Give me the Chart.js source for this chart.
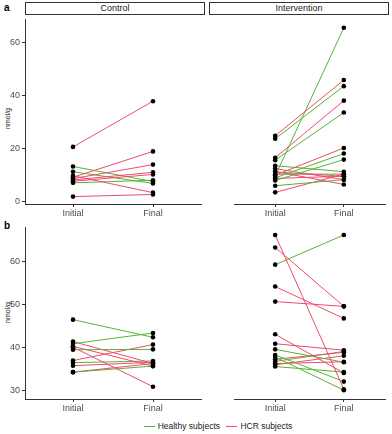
<!DOCTYPE html>
<html>
<head>
<meta charset="utf-8">
<script src="https://cdn.jsdelivr.net/npm/chart.js@4"></script>
<style>
  body { margin: 0; background: #fff; font-family: "Liberation Sans", Arial, sans-serif; }
  #wrap { position: relative; width: 392px; height: 434px; }
  canvas { position: absolute; }
  .strip { position: absolute; top: 2px; height: 11px; border: 1px solid #333; background: #fff;
           font-size: 9px; color: #1a1a1a; text-align: center; line-height: 11px; }
  .tag { position: absolute; font-weight: bold; font-size: 10px; color: #000; }
  .ytitle { position: absolute; font-size: 7px; color: #1a1a1a; transform: rotate(-90deg); transform-origin: center; white-space: nowrap; }
  #legend { position: absolute; top: 421px; left: 44px; width: 348px; text-align: center; font-size: 8.5px; color: #1a1a1a; }
  #legend span.sw { display: inline-block; width: 11px; height: 1px; vertical-align: middle; margin: 0 3px 0 0; }
  #legend span.item { margin: 0 2px; }
</style>
</head>
<body>
<div id="wrap">
  <div class="tag" style="left:4px;top:2px;">a</div>
  <div class="tag" style="left:4px;top:220px;">b</div>
  <div class="strip" style="left:25px;width:178px;">Control</div>
  <div class="strip" style="left:209px;width:178px;">Intervention</div>
  <div class="ytitle" style="left:-8px;top:115px;width:30px;text-align:center;">nmol/g</div>
  <div class="ytitle" style="left:-8px;top:309px;width:30px;text-align:center;">nmol/g</div>
  <canvas id="aControl" width="205" height="204" style="left:0;top:15px;"></canvas>
  <canvas id="aInterv" width="180" height="204" style="left:209px;top:15px;"></canvas>
  <canvas id="bControl" width="205" height="191" style="left:0;top:223px;"></canvas>
  <canvas id="bInterv" width="180" height="191" style="left:209px;top:223px;"></canvas>
  <div id="legend">
    <span class="item"><span class="sw" style="background:#55b335"></span>Healthy subjects</span>
    <span class="item"><span class="sw" style="background:#ef4a6c"></span>HCR subjects</span>
  </div>
</div>
<script>
// categorías y etiquetas
const timeLabels = ['Initial', 'Final'];
const ticksA = [0, 20, 40, 60];
const ticksB = [30, 40, 50, 60];

// Panel a - Control
const aControlInitial = [20.5, 9.0, 8.5, 8.0, 7.5, 9.6, 1.7, 13.1, 11.1, 6.9];
const aControlFinal   = [37.8, 18.8, 13.8, 10.9, 10.1, 3.2, 2.5, 7.4, 6.7, 7.9];
const aControlGroup   = ['HCR', 'HCR', 'HCR', 'HCR', 'HCR', 'HCR', 'HCR', 'Healthy', 'Healthy', 'Healthy'];

// Panel a - Intervention
const aIntervInitial = [24.7, 23.6, 16.4, 15.5, 9.5, 9.8, 8.8, 7.8, 13.4, 12.3, 11.2, 10.2, 8.6, 5.8, 3.3, 11.0];
const aIntervFinal   = [45.8, 43.5, 38.0, 33.5, 65.6, 20.1, 18.0, 15.7, 11.1, 8.1, 6.3, 10.2, 9.4, 8.1, 10.2, 9.4];
const aIntervGroup   = ['HCR', 'Healthy', 'HCR', 'Healthy', 'Healthy', 'HCR', 'Healthy', 'Healthy', 'Healthy', 'HCR', 'HCR', 'HCR', 'HCR', 'Healthy', 'HCR', 'Healthy'];

// Panel b - Control
const bControlInitial = [46.4, 40.8, 39.4, 41.3, 40.2, 40.0, 36.9, 36.4, 35.7, 34.2, 34.2];
const bControlFinal   = [42.3, 43.3, 39.5, 36.2, 35.6, 30.8, 40.6, 36.8, 36.5, 35.6, 36.2];
const bControlGroup   = ['Healthy', 'Healthy', 'Healthy', 'HCR', 'HCR', 'HCR', 'HCR', 'Healthy', 'HCR', 'Healthy', 'HCR'];

// Panel b - Intervention
const bIntervInitial = [66.1, 63.2, 59.2, 54.1, 50.6, 43.0, 40.8, 39.5, 38.2, 37.7, 37.2, 36.7, 36.2, 35.5, 35.9];
const bIntervFinal   = [30.2, 49.5, 66.1, 46.7, 49.5, 34.0, 39.3, 36.5, 32.0, 30.0, 38.8, 39.0, 36.6, 34.2, 38.0];
const bIntervGroup   = ['HCR', 'HCR', 'Healthy', 'HCR', 'HCR', 'HCR', 'HCR', 'Healthy', 'Healthy', 'Healthy', 'HCR', 'Healthy', 'HCR', 'Healthy', 'HCR'];

const colors = { Healthy: '#55b335', HCR: '#ef4a6c' };
const axisColor = '#333333';
const tickFont = { family: 'Liberation Sans', size: 9 };

function makePanel(id, initial, final, group, yMin, yMax, yTicks, showY, xHeight) {
    const datasets = initial.map((v, i) => ({
        data: [{ x: 1, y: v }, { x: 2, y: final[i] }],
        showLine: true,
        borderColor: colors[group[i]],
        borderWidth: 1,
        pointRadius: 0,
        order: 1
    }));
    // puntos encima de las líneas
    const pts = [];
    initial.forEach((v, i) => {
        pts.push({ x: 1, y: v });
        pts.push({ x: 2, y: final[i] });
    });
    datasets.push({
        data: pts,
        showLine: false,
        pointRadius: 2.3,
        pointBackgroundColor: '#000',
        pointBorderWidth: 0,
        order: 0
    });

    new Chart(document.getElementById(id).getContext('2d'), {
        type: 'scatter',
        data: { datasets },
        options: {
            responsive: false,
            animation: false,
            devicePixelRatio: 1,
            layout: { padding: 0 },
            plugins: { legend: { display: false }, tooltip: { enabled: false } },
            scales: {
                x: {
                    type: 'linear',
                    min: 0.4,
                    max: 2.6,
                    afterBuildTicks: axis => { axis.ticks = [{ value: 1 }, { value: 2 }]; },
                    afterFit: scale => {
                        scale.height = xHeight;
                        scale.paddingLeft = 0;
                        scale.paddingRight = 0;
                    },
                    ticks: {
                        callback: (v) => timeLabels[v - 1],
                        font: tickFont,
                        color: '#4d4d4d',
                        padding: 1,
                        maxRotation: 0
                    },
                    grid: { drawOnChartArea: false, drawTicks: true, tickLength: 3, color: axisColor },
                    border: { display: true, color: axisColor, width: 1 }
                },
                y: {
                    display: showY,
                    min: yMin,
                    max: yMax,
                    afterBuildTicks: axis => { axis.ticks = yTicks.map(v => ({ value: v })); },
                    afterFit: scale => {
                        scale.width = 25;
                        scale.paddingTop = 0;
                        scale.paddingBottom = 0;
                    },
                    ticks: { font: tickFont, color: '#4d4d4d', padding: 2 },
                    grid: { drawOnChartArea: false, drawTicks: true, tickLength: 3, color: axisColor },
                    border: { display: true, color: axisColor, width: 1 }
                }
            }
        }
    });
}

makePanel('aControl', aControlInitial, aControlFinal, aControlGroup, -1.1, 68.9, ticksA, true, 15);
makePanel('aInterv', aIntervInitial, aIntervFinal, aIntervGroup, -1.1, 68.9, ticksA, false, 15);
makePanel('bControl', bControlInitial, bControlFinal, bControlGroup, 27.95, 67.95, ticksB, true, 15);
makePanel('bInterv', bIntervInitial, bIntervFinal, bIntervGroup, 27.95, 67.95, ticksB, false, 15);
</script>
</body>
</html>
